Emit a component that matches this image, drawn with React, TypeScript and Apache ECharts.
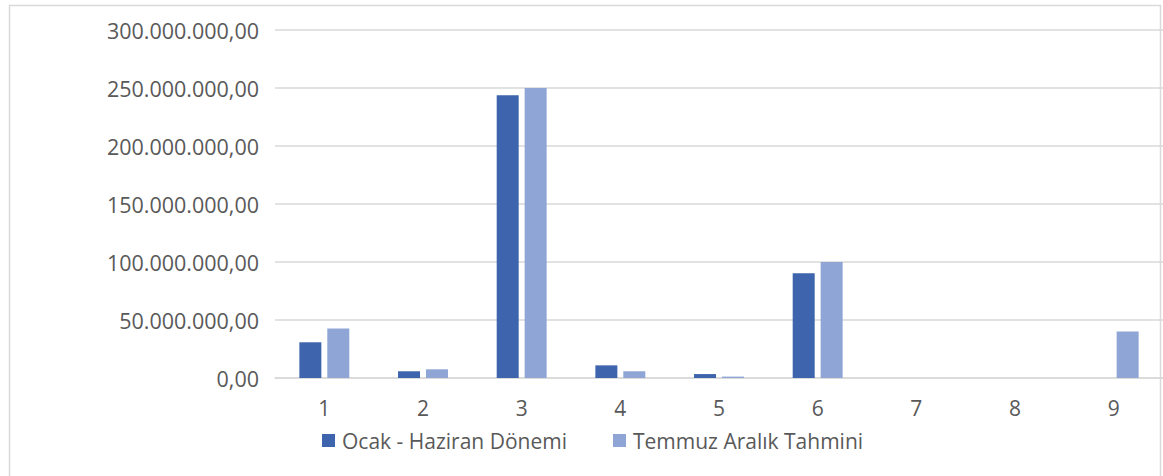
import React, { useEffect, useRef } from "react";
import * as echarts from "echarts";

const categories = ["1", "2", "3", "4", "5", "6", "7", "8", "9"];
const seriesNames = ["Ocak - Haziran Dönemi", "Temmuz Aralık Tahmini"];
const ocakHaziran = [30800000, 5800000, 243700000, 10900000, 3400000, 90300000, 0, 0, 0];
const temmuzAralik = [42600000, 7500000, 250000000, 5800000, 1200000, 100000000, 0, 0, 40000000];
const yMax = 300000000;
const yStep = 50000000;

const FONT = "'Open Sans', 'Noto Sans', sans-serif";
const TEXT = "#595959";
const GRID = "#d9d9d9";
const DARK = "#3d64ad";
const LIGHT = "#8ea5d6";

function fmt(v: number): string {
  const s = Math.round(v).toString();
  const withDots = s.replace(/\B(?=(\d{3})+(?!\d))/g, ".");
  return withDots + ",00";
}

export default function App() {
  const ref = useRef<HTMLDivElement>(null);
  useEffect(() => {
    document.body.style.margin = "0";
    if (!ref.current) return;
    const chart = echarts.init(ref.current, null, { renderer: "svg" });
    const legendText = { color: TEXT, fontSize: 21, fontFamily: FONT, padding: [0, 0, 0, 2] };
    chart.setOption({
      animation: false,
      backgroundColor: "#ffffff",
      textStyle: { fontFamily: FONT },
      grid: { left: 275, right: 0, top: 30, bottom: 98, containLabel: false },
      legend: [
        {
          data: [seriesNames[0]],
          left: 317,
          top: 425,
          icon: "rect",
          itemWidth: 13,
          itemHeight: 13,
          textStyle: legendText,
        },
        {
          data: [seriesNames[1]],
          left: 608,
          top: 425,
          icon: "rect",
          itemWidth: 13,
          itemHeight: 13,
          textStyle: legendText,
        },
      ],
      xAxis: {
        type: "category",
        data: categories,
        axisLine: { show: true, lineStyle: { color: GRID, width: 1.5 } },
        axisTick: { show: false },
        axisLabel: { color: TEXT, fontSize: 21, fontFamily: FONT, margin: 19 },
        splitLine: { show: false },
      },
      yAxis: {
        type: "value",
        min: 0,
        max: yMax,
        interval: yStep,
        axisLine: { show: false },
        axisTick: { show: false },
        axisLabel: {
          color: TEXT,
          fontSize: 21.5,
          fontFamily: FONT,
          margin: 16,
          formatter: (v: number) => fmt(v),
        },
        splitLine: { show: true, lineStyle: { color: GRID, width: 1.5 } },
      },
      series: [
        {
          name: seriesNames[0],
          type: "bar",
          data: ocakHaziran,
          barWidth: 22,
          barGap: "27%",
          itemStyle: { color: DARK },
        },
        {
          name: seriesNames[1],
          type: "bar",
          data: temmuzAralik,
          barWidth: 22,
          barGap: "27%",
          itemStyle: { color: LIGHT },
        },
      ],
      graphic: [
        {
          type: "rect",
          shape: { x: 9.5, y: 5.5, width: 1151, height: 490 },
          style: { fill: "none", stroke: GRID, lineWidth: 1.5 },
          silent: true,
          z: 100,
        },
      ],
    });
    return () => chart.dispose();
  }, []);
  return <div ref={ref} style={{ width: 1163, height: 476 }} />;
}
